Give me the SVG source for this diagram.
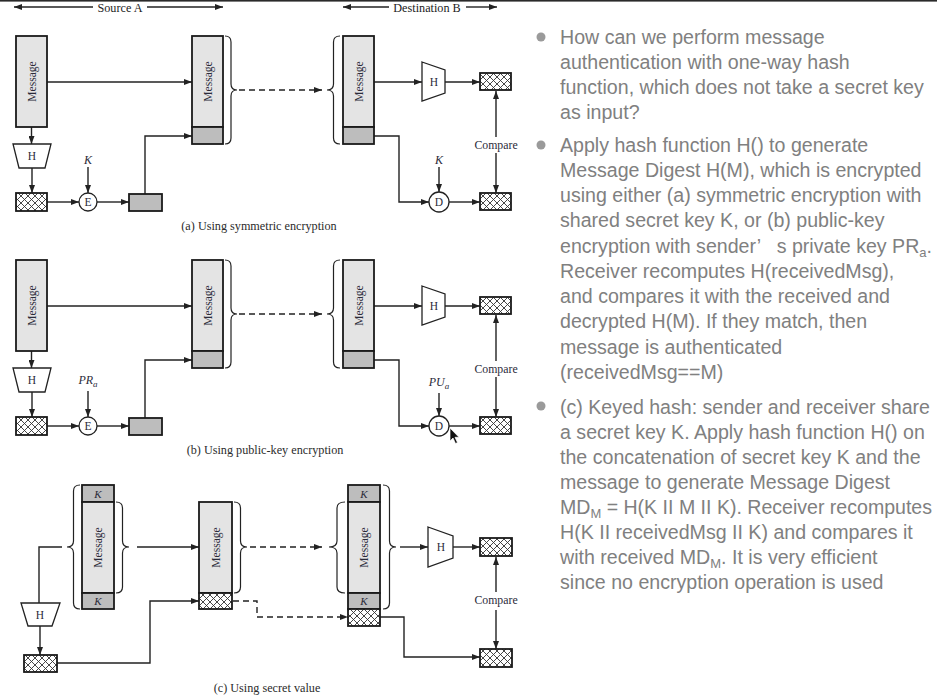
<svg xmlns="http://www.w3.org/2000/svg" width="937" height="698" viewBox="0 0 937 698">
<defs>
<pattern id="hatch" patternUnits="userSpaceOnUse" width="7" height="7">
<rect width="7" height="7" fill="#fff"/>
<path d="M0,0 L7,7 M7,0 L0,7" stroke="#333" stroke-width="0.9"/>
</pattern>
<marker id="ah" markerUnits="userSpaceOnUse" markerWidth="8" markerHeight="6" refX="8" refY="3" orient="auto">
<path d="M0,0 L8,3 L0,6 z" fill="#222"/>
</marker>
<style>
.ln{stroke:#222;stroke-width:1.4;fill:none}
.dl{stroke:#222;stroke-width:1.4;fill:none;stroke-dasharray:6,4}
.ar{marker-end:url(#ah)}
.msg{fill:#e4e4e4;stroke:#1a1a1a;stroke-width:1.8}
.tag{fill:#bdbdbd;stroke:#1a1a1a;stroke-width:1.8}
.hat{fill:url(#hatch);stroke:#1a1a1a;stroke-width:1.8}
.fn{fill:#fff;stroke:#222;stroke-width:1.3}
.br{fill:none;stroke:#222;stroke-width:1.2}
.t{font-family:"Liberation Serif",serif;fill:#2b2b3a;font-size:11.5px}
.c{text-anchor:middle}
.k{font-style:italic;font-size:12px}
.cmp{font-size:11.8px}
.cap{font-family:"Liberation Serif",serif;fill:#2b2b2b;font-size:12.2px;text-anchor:middle}
.hd{font-family:"Liberation Serif",serif;fill:#222;font-size:12.2px;text-anchor:middle}
.bt{font-family:"Liberation Sans",sans-serif;fill:#808080;font-size:19.6px}
.bu{fill:#9a9a9a}
</style>
</defs>
<rect x="0" y="0" width="937" height="698" fill="#fff"/>
<rect x="0" y="0" width="937" height="1.6" fill="#2a2a2a"/>

<g id="header">
<text class="hd" x="120" y="11.5">Source A</text>
<text class="hd" x="427" y="11.5">Destination B</text>
</g>

<g id="connectors">
<line class="ln ar" x1="93" y1="7" x2="14" y2="7"/>
<line class="ln ar" x1="147" y1="7" x2="223" y2="7"/>
<line class="ln ar" x1="389" y1="7" x2="343" y2="7"/>
<line class="ln ar" x1="466" y1="7" x2="497" y2="7"/>

<!-- (a) -->
<line class="ln ar" x1="31.5" y1="127" x2="31.5" y2="144"/>
<line class="ln ar" x1="32" y1="168" x2="32" y2="193"/>
<line class="ln ar" x1="47" y1="202" x2="79" y2="202"/>
<line class="ln ar" x1="88" y1="167" x2="88" y2="193"/>
<line class="ln ar" x1="97" y1="202" x2="129" y2="202"/>
<polyline class="ln ar" points="145,194 145,136 192,136"/>
<line class="ln ar" x1="47" y1="82" x2="192" y2="82"/>
<line class="dl ar" x1="239" y1="90" x2="322" y2="90"/>
<line class="ln ar" x1="374" y1="82" x2="422" y2="82"/>
<line class="ln ar" x1="445" y1="82" x2="480" y2="82"/>
<line class="ln ar" x1="496" y1="137" x2="496" y2="91"/>
<line class="ln ar" x1="496" y1="153" x2="496" y2="193"/>
<polyline class="ln ar" points="374,136 399,136 399,202 429,202"/>
<line class="ln ar" x1="439" y1="167" x2="439" y2="192"/>
<line class="ln ar" x1="449" y1="202" x2="480" y2="202"/>

<!-- (b) -->
<line class="ln ar" x1="31.5" y1="351" x2="31.5" y2="368"/>
<line class="ln ar" x1="32" y1="392" x2="32" y2="417"/>
<line class="ln ar" x1="47" y1="426" x2="79" y2="426"/>
<line class="ln ar" x1="88" y1="391" x2="88" y2="417"/>
<line class="ln ar" x1="97" y1="426" x2="129" y2="426"/>
<polyline class="ln ar" points="145,418 145,360 192,360"/>
<line class="ln ar" x1="47" y1="306" x2="192" y2="306"/>
<line class="dl ar" x1="239" y1="314" x2="322" y2="314"/>
<line class="ln ar" x1="374" y1="306" x2="422" y2="306"/>
<line class="ln ar" x1="445" y1="306" x2="480" y2="306"/>
<line class="ln ar" x1="496" y1="361" x2="496" y2="315"/>
<line class="ln ar" x1="496" y1="377" x2="496" y2="417"/>
<polyline class="ln ar" points="374,360 399,360 399,426 429,426"/>
<line class="ln ar" x1="439" y1="393" x2="439" y2="416"/>
<line class="ln ar" x1="449" y1="426" x2="480" y2="426"/>

<!-- (c) -->
<polyline class="ln" points="62,547 39,547 39,603"/>
<line class="ln ar" x1="137" y1="547" x2="199" y2="547"/>
<line class="ln ar" x1="40" y1="626" x2="40" y2="655"/>
<polyline class="ln ar" points="57,663 150,663 150,601 199,601"/>
<line class="dl ar" x1="250" y1="547" x2="322" y2="547"/>
<polyline class="dl ar" points="233,601 257,601 257,617 348,617"/>
<line class="ln ar" x1="400" y1="547" x2="428" y2="547"/>
<line class="ln ar" x1="453" y1="547" x2="480" y2="547"/>
<line class="ln ar" x1="496" y1="592" x2="496" y2="557"/>
<line class="ln ar" x1="496" y1="610" x2="496" y2="649"/>
<polyline class="ln ar" points="380,617 404,617 404,657 480,657"/>
</g>

<!-- ===== (a) nodes ===== -->
<g id="a-msg1">
<rect class="msg" x="16" y="36" width="31" height="91"/>
<text class="t c" transform="translate(35.5,81.5) rotate(-90)">Message</text>
</g>
<g id="a-h1">
<polygon class="fn" points="13,144 51,144 45,168 19,168"/>
<text class="t c" x="32" y="160">H</text>
</g>
<g id="a-hash1"><rect class="hat" x="16" y="193" width="31" height="18"/></g>
<g id="a-enc">
<circle class="fn" cx="88" cy="202" r="9"/>
<text class="t c" x="88" y="206">E</text>
<text class="t c k" x="88" y="164">K</text>
</g>
<g id="a-tag1"><rect class="tag" x="129" y="194" width="33" height="17"/></g>
<g id="a-msg2">
<rect class="msg" x="192" y="36" width="31" height="91"/>
<rect class="tag" x="192" y="127" width="31" height="17"/>
<text class="t c" transform="translate(211.5,81.5) rotate(-90)">Message</text>
<path class="br" d="M225,36 Q231,36 231,42 L231,84 Q231,90 237,90 Q231,90 231,96 L231,138 Q231,144 225,144"/>
</g>
<g id="a-msg3">
<path class="br" d="M340,36 Q333.5,36 333.5,42 L333.5,84 Q333.5,90 327,90 Q333.5,90 333.5,96 L333.5,138 Q333.5,144 340,144"/>
<rect class="msg" x="343" y="36" width="31" height="91"/>
<rect class="tag" x="343" y="127" width="31" height="17"/>
<text class="t c" transform="translate(362.5,81.5) rotate(-90)">Message</text>
</g>
<g id="a-h2">
<polygon class="fn" points="422,62 445,70 445,93 422,101"/>
<text class="t c" x="434" y="86">H</text>
</g>
<g id="a-hash2"><rect class="hat" x="480" y="73" width="31" height="17"/></g>
<g id="a-compare"><text class="t c cmp" x="496" y="149">Compare</text></g>
<g id="a-dec">
<circle class="fn" cx="439" cy="202" r="10"/>
<text class="t c" x="439" y="206">D</text>
<text class="t c k" x="439" y="164">K</text>
</g>
<g id="a-hash3"><rect class="hat" x="480" y="193" width="31" height="17"/></g>
<text class="cap" x="259" y="230">(a) Using symmetric encryption</text>

<!-- ===== (b) nodes ===== -->
<g id="b-msg1">
<rect class="msg" x="16" y="260" width="31" height="91"/>
<text class="t c" transform="translate(35.5,305.5) rotate(-90)">Message</text>
</g>
<g id="b-h1">
<polygon class="fn" points="13,368 51,368 45,392 19,392"/>
<text class="t c" x="32" y="384">H</text>
</g>
<g id="b-hash1"><rect class="hat" x="16" y="417" width="31" height="18"/></g>
<g id="b-enc">
<circle class="fn" cx="88" cy="426" r="9"/>
<text class="t c" x="88" y="430">E</text>
<text class="t c k" x="88" y="384">PR<tspan font-size="9" dy="3">a</tspan></text>
</g>
<g id="b-tag1"><rect class="tag" x="129" y="418" width="33" height="17"/></g>
<g id="b-msg2">
<rect class="msg" x="192" y="260" width="31" height="91"/>
<rect class="tag" x="192" y="351" width="31" height="17"/>
<text class="t c" transform="translate(211.5,305.5) rotate(-90)">Message</text>
<path class="br" d="M225,260 Q231,260 231,266 L231,308 Q231,314 237,314 Q231,314 231,320 L231,362 Q231,368 225,368"/>
</g>
<g id="b-msg3">
<path class="br" d="M340,260 Q333.5,260 333.5,266 L333.5,308 Q333.5,314 327,314 Q333.5,314 333.5,320 L333.5,362 Q333.5,368 340,368"/>
<rect class="msg" x="343" y="260" width="31" height="91"/>
<rect class="tag" x="343" y="351" width="31" height="17"/>
<text class="t c" transform="translate(362.5,305.5) rotate(-90)">Message</text>
</g>
<g id="b-h2">
<polygon class="fn" points="422,286 445,294 445,317 422,325"/>
<text class="t c" x="434" y="310">H</text>
</g>
<g id="b-hash2"><rect class="hat" x="480" y="297" width="31" height="17"/></g>
<g id="b-compare"><text class="t c cmp" x="496" y="373">Compare</text></g>
<g id="b-dec">
<circle class="fn" cx="439" cy="426" r="10"/>
<text class="t c" x="439" y="430">D</text>
<text class="t c k" x="439" y="386">PU<tspan font-size="9" dy="3">a</tspan></text>
</g>
<g id="b-hash3"><rect class="hat" x="480" y="417" width="31" height="17"/></g>
<text class="cap" x="265" y="454">(b) Using public-key encryption</text>
<path d="M450,428 L450,441 L453,438 L455.5,443.5 L457.5,442.6 L455,437.3 L459,437.3 Z" fill="#111" stroke="#fff" stroke-width="0.7"/>

<!-- ===== (c) nodes ===== -->
<g id="c-block1">
<path class="br" d="M80,485 Q73.5,485 73.5,491 L73.5,541 Q73.5,547 67,547 Q73.5,547 73.5,553 L73.5,603 Q73.5,609 80,609"/>
<rect class="tag" x="82" y="485" width="32" height="17"/>
<rect class="msg" x="82" y="502" width="32" height="91"/>
<rect class="tag" x="82" y="593" width="32" height="16"/>
<text class="t c k" x="98" y="497.5" style="font-size:11px">K</text>
<text class="t c k" x="98" y="605" style="font-size:11px">K</text>
<text class="t c" transform="translate(102,547.5) rotate(-90)">Message</text>
<path class="br" d="M116,502 Q122.5,502 122.5,508 L122.5,541 Q122.5,547 129,547 Q122.5,547 122.5,553 L122.5,587 Q122.5,593 116,593"/>
</g>
<g id="c-h1">
<polygon class="fn" points="21,603 60,603 52,626 28,626"/>
<text class="t c" x="40" y="619">H</text>
</g>
<g id="c-hash1"><rect class="hat" x="24" y="655" width="33" height="17"/></g>
<g id="c-msg2">
<rect class="msg" x="199" y="502" width="33" height="91"/>
<rect class="hat" x="199" y="593" width="33" height="16"/>
<text class="t c" transform="translate(219.5,547.5) rotate(-90)">Message</text>
<path class="br" d="M234,502 Q240.5,502 240.5,508 L240.5,541 Q240.5,547 247,547 Q240.5,547 240.5,553 L240.5,587 Q240.5,593 234,593"/>
</g>
<g id="c-msg3">
<path class="br" d="M345,502 Q337,502 337,508 L337,541 Q337,547 329,547 Q337,547 337,553 L337,587 Q337,593 345,593"/>
<rect class="tag" x="348" y="485" width="32" height="17"/>
<rect class="msg" x="348" y="502" width="32" height="91"/>
<rect class="tag" x="348" y="593" width="32" height="16"/>
<rect class="hat" x="348" y="609" width="32" height="17"/>
<text class="t c k" x="364" y="497.5" style="font-size:11px">K</text>
<text class="t c k" x="364" y="605" style="font-size:11px">K</text>
<text class="t c" transform="translate(368,547.5) rotate(-90)">Message</text>
<path class="br" d="M383,485 Q389.5,485 389.5,491 L389.5,541 Q389.5,547 396,547 Q389.5,547 389.5,553 L389.5,603 Q389.5,609 383,609"/>
</g>
<g id="c-h2">
<polygon class="fn" points="428,527 453,536 453,558 428,567"/>
<text class="t c" x="441" y="551">H</text>
</g>
<g id="c-hash2"><rect class="hat" x="480" y="538" width="32" height="18"/></g>
<g id="c-compare"><text class="t c cmp" x="496" y="604">Compare</text></g>
<g id="c-hash3"><rect class="hat" x="480" y="649" width="32" height="18"/></g>
<text class="cap" x="267" y="692">(c) Using secret value</text>

<!-- ===== bullet text ===== -->
<g id="bullets">
<circle class="bu" cx="541" cy="37" r="4.5"/>
<circle class="bu" cx="541" cy="145" r="4.5"/>
<circle class="bu" cx="541" cy="406" r="4.5"/>
<text class="bt" x="560" y="44">How can we perform message</text>
<text class="bt" x="560" y="69">authentication with one-way hash</text>
<text class="bt" x="560" y="94">function, which does not take a secret key</text>
<text class="bt" x="560" y="119">as input?</text>
<text class="bt" x="560" y="152">Apply hash function H() to generate</text>
<text class="bt" x="560" y="177">Message Digest H(M), which is encrypted</text>
<text class="bt" x="560" y="202">using either (a) symmetric encryption with</text>
<text class="bt" x="560" y="227">shared secret key K, or (b) public-key</text>
<text class="bt" x="560" y="253" xml:space="preserve" textLength="372" lengthAdjust="spacingAndGlyphs">encryption with sender’   s private key PR<tspan font-size="13" dy="4">a</tspan><tspan dy="-4">.</tspan></text>
<text class="bt" x="560" y="278">Receiver recomputes H(receivedMsg),</text>
<text class="bt" x="560" y="303">and compares it with the received and</text>
<text class="bt" x="560" y="328">decrypted H(M). If they match, then</text>
<text class="bt" x="560" y="354">message is authenticated</text>
<text class="bt" x="560" y="379">(receivedMsg==M)</text>
<text class="bt" x="560" y="414" textLength="370" lengthAdjust="spacingAndGlyphs">(c) Keyed hash: sender and receiver share</text>
<text class="bt" x="560" y="439">a secret key K. Apply hash function H() on</text>
<text class="bt" x="560" y="464">the concatenation of secret key K and the</text>
<text class="bt" x="560" y="489">message to generate Message Digest</text>
<text class="bt" x="560" y="514" textLength="372" lengthAdjust="spacingAndGlyphs">MD<tspan font-size="13" dy="4">M</tspan><tspan dy="-4"> = H(K II M II K). Receiver recomputes</tspan></text>
<text class="bt" x="560" y="539">H(K II receivedMsg II K) and compares it</text>
<text class="bt" x="560" y="564">with received MD<tspan font-size="13" dy="4">M</tspan><tspan dy="-4">. It is very efficient</tspan></text>
<text class="bt" x="560" y="589">since no encryption operation is used</text>
</g>
</svg>
